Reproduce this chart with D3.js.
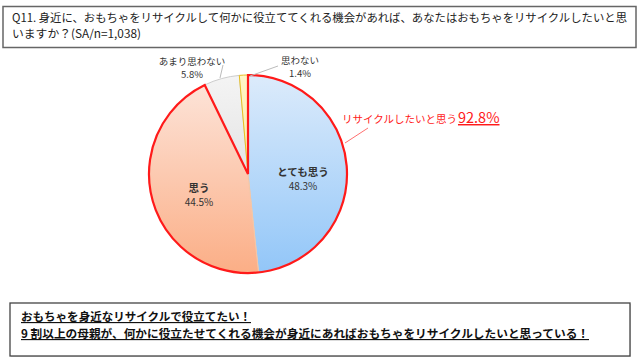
<!DOCTYPE html>
<html><head><meta charset="utf-8">
<script src="https://cdn.jsdelivr.net/npm/d3@7"></script>
<style>body{margin:0;background:#fff}svg{display:block}</style>
</head><body>
<script>
const categories = ["とても思う", "思う", "あまり思わない", "思わない"];
const values = [48.3, 44.5, 5.8, 1.4];
const titleLines = ["Q11. 身近に、おもちゃをリサイクルして何かに役立ててくれる機会があれば、あなたはおもちゃをリサイクルしたいと思", "いますか？(SA/n=1,038)"];
const summaryLabel = "リサイクルしたいと思う";
const summaryValue = 92.8;
const noteLines = ["おもちゃを身近なリサイクルで役立てたい！", "9 割以上の母親が、何かに役立たせてくれる機会が身近にあればおもちゃをリサイクルしたいと思っている！"];

const W = 640, H = 358;
const font = "'Noto Sans CJK JP', 'Noto Sans', sans-serif";
const svg = d3.select("body").append("svg").attr("width", W).attr("height", H);
const defs = svg.append("defs");

// title box
svg.append("rect").attr("x", 3).attr("y", 6.5).attr("width", 633).attr("height", 41)
  .attr("fill", "#fff").attr("stroke", "#666").attr("stroke-width", 1.5);
svg.append("g").selectAll("text").data(titleLines).join("text")
  .attr("font-family", font).attr("font-size", 11.5).attr("fill", "#222")
  .attr("x", 12).attr("y", (d, i) => 21.5 + i * 16.5)
  .attr("textLength", (d, i) => i === 0 ? 615 : 129).attr("lengthAdjust", "spacingAndGlyphs")
  .text(d => d);

// pie
const cx = 248, cy = 174, r = 99;
const g = svg.append("g").attr("transform", `translate(${cx},${cy})`);
const pie = d3.pie().sort(null).value(d => d)(values);
const arc = d3.arc().innerRadius(0).outerRadius(r);

const grads = [
  ["#dcebfb", "#92c6f8"],
  ["#fde6dc", "#fbae86"],
  ["#f4f4f4", "#d4d4d4"],
  ["#fff6c8", "#ffe680"]
];
const strokes = ["#f2c7a8", "#f2c7a8", "#cccccc", "#e8c020"];
grads.forEach((c, i) => {
  const lg = defs.append("linearGradient").attr("id", "g" + i)
    .attr("gradientUnits", "userSpaceOnUse").attr("x1", 0).attr("y1", -r).attr("x2", 0).attr("y2", r);
  lg.append("stop").attr("offset", 0).attr("stop-color", c[0]);
  lg.append("stop").attr("offset", 1).attr("stop-color", c[1]);
});
g.selectAll("path.slice").data(pie).join("path").attr("class", "slice")
  .attr("d", arc).attr("fill", (d, i) => `url(#g${i})`)
  .attr("stroke", (d, i) => strokes[i]).attr("stroke-width", 1);

// red outline around first two slices
const sumArc = { startAngle: pie[0].startAngle, endAngle: pie[1].endAngle };
g.append("path").attr("d", arc(sumArc)).attr("fill", "none")
  .attr("stroke", "#ff1a1a").attr("stroke-width", 2.2).attr("stroke-linejoin", "miter");

// inside labels
[0, 1].forEach(i => {
  const p = i === 0 ? [55, -1] : [-49, 15];
  g.append("text").attr("font-family", font).attr("font-size", 10.5).attr("font-weight", "bold")
    .attr("fill", "#333").attr("text-anchor", "middle")
    .attr("x", p[0]).attr("y", p[1] + 3).text(categories[i]);
  g.append("text").attr("font-family", font).attr("font-size", 10)
    .attr("fill", "#333").attr("text-anchor", "middle")
    .attr("x", p[0]).attr("y", p[1] + 17).text(values[i].toFixed(1) + "%");
});

// outside labels
const outs = [
  { i: 2, x: 192 - cx, y: 62 - cy, line: [[223 - cx, 65 - cy], [220 - cx, 78 - cy]] },
  { i: 3, x: 300 - cx, y: 61 - cy, line: [[278 - cx, 66 - cy], [250 - cx, 76 - cy]] }
];
outs.forEach(o => {
  g.append("polyline").attr("points", o.line.map(p => p.join(",")).join(" "))
    .attr("fill", "none").attr("stroke", "#bbb").attr("stroke-width", 1);
  g.append("text").attr("font-family", font).attr("font-size", 9.5)
    .attr("fill", "#333").attr("text-anchor", "middle")
    .attr("x", o.x).attr("y", o.y + 3).text(categories[o.i]);
  g.append("text").attr("font-family", font).attr("font-size", 9.5)
    .attr("fill", "#333").attr("text-anchor", "middle")
    .attr("x", o.x).attr("y", o.y + 16).text(values[o.i].toFixed(1) + "%");
});

// summary label
svg.append("line").attr("x1", 368).attr("y1", 128).attr("x2", 345).attr("y2", 143)
  .attr("stroke", "#ff7070").attr("stroke-width", 1);
const st = svg.append("text").attr("font-family", font).attr("fill", "#ff1a1a")
  .attr("x", 342).attr("y", 123);
st.append("tspan").attr("font-size", 10.5).text(summaryLabel);
st.append("tspan").attr("font-size", 14.5).attr("text-decoration", "underline")
  .attr("dx", 1).text(summaryValue.toFixed(1) + "%");

// note box
svg.append("rect").attr("x", 11).attr("y", 304).attr("width", 620).attr("height", 53)
  .attr("fill", "#ddd");
svg.append("rect").attr("x", 10).attr("y", 303).attr("width", 620).attr("height", 53)
  .attr("fill", "#fff").attr("stroke", "#444").attr("stroke-width", 1.3);
svg.append("g").selectAll("text").data(noteLines).join("text")
  .attr("font-family", font).attr("font-size", 11.5).attr("font-weight", "bold")
  .attr("fill", "#111")
  .attr("x", 21).attr("y", (d, i) => 321 + i * 17)
  .attr("text-decoration", "underline")
  .attr("textLength", (d, i) => i === 0 ? 230 : 568).attr("lengthAdjust", "spacingAndGlyphs")
  .text(d => d);
</script>
</body></html>
